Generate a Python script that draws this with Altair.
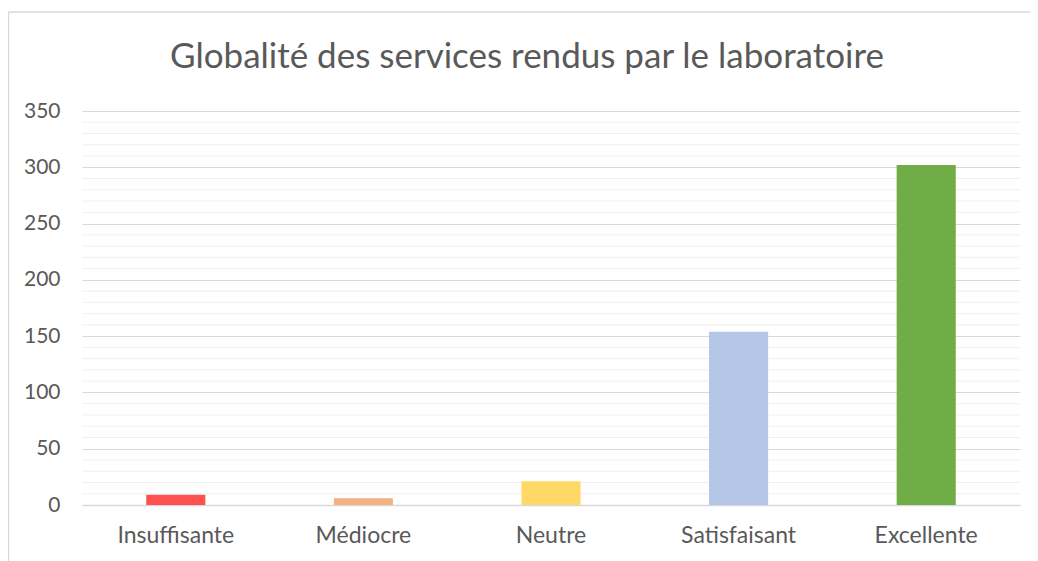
import altair as alt
import pandas as pd

categories = ["Insuffisante", "Médiocre", "Neutre", "Satisfaisant", "Excellente"]
values = [9, 6, 21, 154, 302]
bar_colors = ["#FF5050", "#F4B183", "#FFD966", "#B4C7E7", "#70AD47"]
major_ticks = [0, 50, 100, 150, 200, 250, 300, 350]
minor_ticks = [v for v in range(10, 350, 10) if v % 50 != 0]
title_text = ["Globalité des services rendus par le laboratoire"]

FONT = "Lato"
GREY = "#595959"

df = pd.DataFrame({"cat": categories, "val": values, "color": bar_colors})
minor_df = pd.DataFrame({"v": minor_ticks})
title_df = pd.DataFrame({"t": title_text})

yscale = alt.Scale(domain=[0, 350], nice=False)
yaxis = alt.Axis(
    title=None, values=major_ticks, grid=True, gridColor="#d9d9d9",
    gridWidth=1.2, domain=False, ticks=False,
    labelFont=FONT, labelFontSize=21, labelColor=GREY, labelPadding=22,
)

minor = alt.Chart(minor_df).mark_rule(color="#f0f0f0", strokeWidth=1).encode(
    y=alt.Y("v:Q", scale=yscale, axis=yaxis, title=None)
)

bars = alt.Chart(df).mark_bar().encode(
    x=alt.X(
        "cat:N",
        sort=categories,
        scale=alt.Scale(paddingInner=0.685, paddingOuter=0.3425),
        axis=alt.Axis(
            title=None, labelAngle=0, ticks=False, domain=True,
            domainColor="#d9d9d9", domainWidth=1.5,
            labelFont=FONT, labelFontSize=23, labelColor=GREY, labelPadding=19,
        ),
    ),
    y=alt.Y("val:Q", scale=yscale, axis=yaxis, title=None),
    color=alt.Color("color:N", scale=None),
)

title = alt.Chart(title_df).mark_text(
    font=FONT, fontSize=35, color=GREY, align="center", baseline="alphabetic"
).encode(text="t:N", x=alt.value(445), y=alt.value(-43))

frame_left = alt.Chart(title_df).mark_rule(color="#d9d9d9", strokeWidth=1.5).encode(
    x=alt.value(-73.5), y=alt.value(-99), y2=alt.value(500)
)
frame_top = alt.Chart(title_df).mark_rule(color="#d9d9d9", strokeWidth=1.5).encode(
    x=alt.value(-73.5), x2=alt.value(1100), y=alt.value(-99)
)

chart = (
    alt.layer(minor, bars, title, frame_left, frame_top)
    .properties(
        width=938,
        height=394,
        background="white",
        autosize=alt.AutoSizeParams(type="none"),
        padding={"left": 74, "top": 103, "right": 10, "bottom": 58},
    )
    .configure_view(stroke="transparent", strokeWidth=0)
)

chart.save("out.html", embed_options={"renderer": "svg", "actions": False})
